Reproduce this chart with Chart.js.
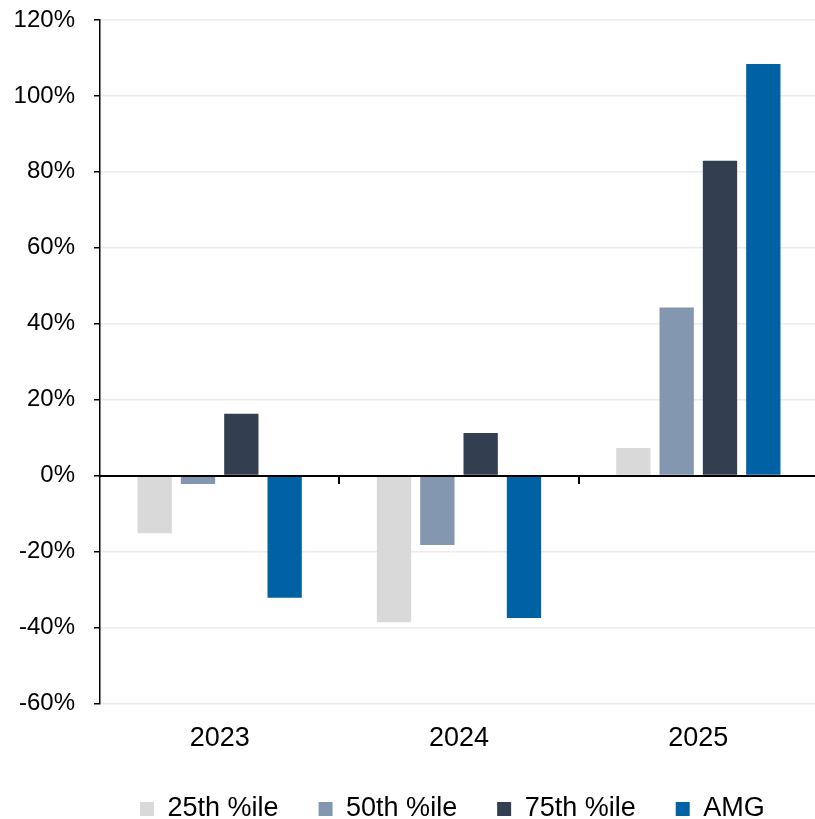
<!DOCTYPE html>
<html>
<head>
<meta charset="utf-8">
<title>Percentile returns</title>
<script src="https://cdn.jsdelivr.net/npm/chart.js@4.4.0/dist/chart.umd.min.js"></script>
<style>
  html, body { margin: 0; padding: 0; background: #fff; overflow: hidden; }
  #wrap { width: 818px; height: 819px; }
</style>
</head>
<body>
<div id="wrap"><canvas id="chart"></canvas></div>
<script>
// yearly returns, in percent
const years = ['2023', '2024', '2025'];
const p25 = [-15.2, -38.6, 7.3];
const p50 = [-2.2, -18.3, 44.3];
const p75 = [16.3, 11.2, 82.9];
const amg = [-32.2, -37.5, 108.4];
const yMin = -60;
const yMax = 120;
const yStep = 20;

const FONT = 'Arial, "Liberation Sans", sans-serif';

// black zero line with small ticks between the year groups
const zeroAxis = {
  id: 'zeroAxis',
  afterDatasetsDraw(chart) {
    const { ctx, chartArea, scales: { x, y } } = chart;
    const y0 = Math.round(y.getPixelForValue(0));
    ctx.save();
    ctx.strokeStyle = '#000';
    ctx.lineWidth = 2;
    ctx.beginPath();
    ctx.moveTo(chartArea.left, y0);
    ctx.lineTo(chartArea.right, y0);
    for (let i = 1; i < years.length; i++) {
      const xb = Math.round(x.getPixelForValue(i - 0.5));
      ctx.moveTo(xb, y0);
      ctx.lineTo(xb, y0 + 8);
    }
    ctx.stroke();
    ctx.restore();
  }
};

const series = [
  { label: '25th %ile', data: p25, color: '#d9d9d9' },
  { label: '50th %ile', data: p50, color: '#8497b0' },
  { label: '75th %ile', data: p75, color: '#333f50' },
  { label: 'AMG', data: amg, color: '#0062a4' }
];

new Chart(document.getElementById('chart'), {
  type: 'bar',
  data: {
    labels: years,
    datasets: series.map(s => ({
      label: s.label,
      data: s.data,
      backgroundColor: s.color,
      borderWidth: 0,
      categoryPercentage: 0.724,
      barPercentage: 0.792
    }))
  },
  options: {
    responsive: true,
    maintainAspectRatio: false,
    animation: false,
    layout: { padding: { top: 20, right: 0, bottom: -13.4, left: 0 } },
    plugins: {
      tooltip: { enabled: false },
      legend: {
        position: 'bottom',
        align: 'start',
        fullSize: false,
        labels: {
          boxWidth: 14,
          boxHeight: 14,
          padding: 40,
          color: '#000',
          font: { family: FONT, size: 27 }
        }
      }
    },
    scales: {
      x: {
        afterFit(scale) { scale.height = 52; },
        grid: { display: false },
        border: { display: false },
        ticks: {
          color: '#000',
          padding: 11,
          font: { family: FONT, size: 27 }
        }
      },
      y: {
        min: yMin,
        max: yMax,
        afterFit(scale) {
          scale.width = 100;
          scale.paddingTop = 0;
        },
        grid: {
          color: '#ebebeb',
          lineWidth: 1.5,
          tickColor: '#000',
          tickLength: 6
        },
        border: { color: '#000', width: 1.5 },
        ticks: {
          stepSize: yStep,
          color: '#000',
          padding: 19,
          font: { family: FONT, size: 24 },
          callback: v => v + '%'
        }
      }
    }
  },
  plugins: [zeroAxis]
});
</script>
</body>
</html>
